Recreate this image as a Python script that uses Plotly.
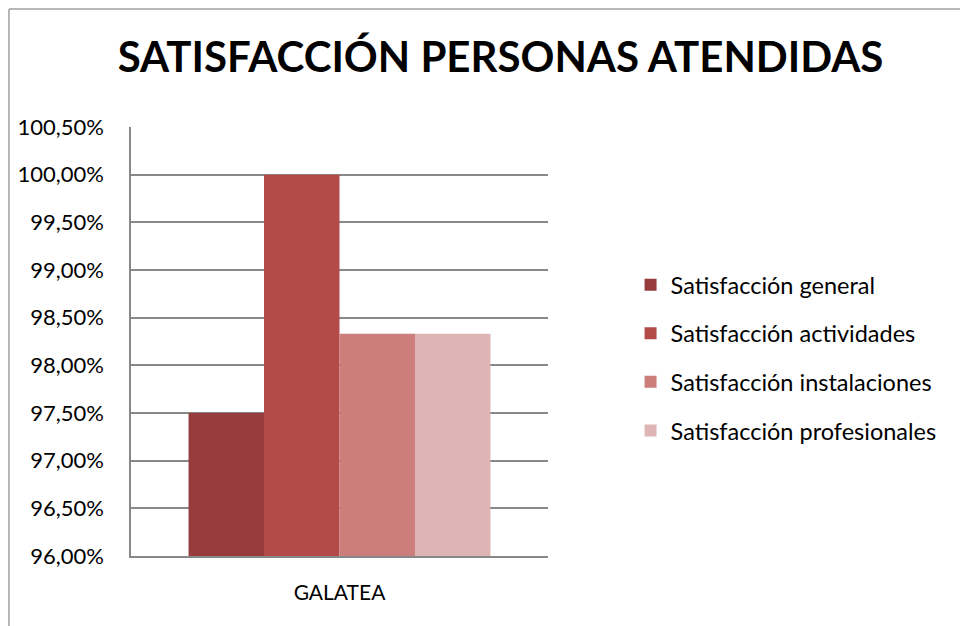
import plotly.graph_objects as go

# Datos
categorias = ["GALATEA"]
series = [
    "Satisfacción general",
    "Satisfacción actividades",
    "Satisfacción instalaciones",
    "Satisfacción profesionales",
]
valores = [0.975, 1.0, 0.9833, 0.9833]
colores = ["#963C3C", "#B24A48", "#CB7E7C", "#DEB5B4"]

FUENTE = "Lato, Calibri, sans-serif"

fig = go.Figure()

for nombre, valor, color in zip(series, valores, colores):
    fig.add_trace(go.Bar(
        x=categorias,
        y=[valor],
        name=nombre,
        marker=dict(color=color, line=dict(width=0)),
        legendgroup=nombre,
    ))

# la página tiene 8px de margen en el body: se compensa en los márgenes
fig.update_layout(
    width=968,
    height=626,
    margin=dict(l=123, r=428, t=119, b=78),
    paper_bgcolor="white",
    plot_bgcolor="white",
    separators=",.",
    barmode="group",
    bargap=0.276,
    bargroupgap=0,
    title=dict(
        text="<b>SATISFACCIÓN PERSONAS ATENDIDAS</b>",
        font=dict(family=FUENTE, size=42, color="black"),
        x=0.5088, xref="container", xanchor="center",
        y=0.9217, yref="container", yanchor="middle",
    ),
    font=dict(family=FUENTE, size=20, color="black"),
    legend=dict(
        x=1.198, xanchor="left",
        y=0.683, yanchor="top",
        font=dict(family=FUENTE, size=23.5, color="black"),
        tracegroupgap=15,
        traceorder="grouped",
        itemclick=False,
    ),
    xaxis=dict(
        showline=True, linecolor="#888888", linewidth=1.5,
        showgrid=False, ticks="", ticklabelstandoff=17,
        tickfont=dict(size=21), automargin=False,
    ),
    yaxis=dict(
        range=[0.96, 1.005],
        dtick=0.005,
        tickformat=".2%",
        showline=True, linecolor="#888888", linewidth=1.5,
        showgrid=True, gridcolor="#888888", gridwidth=1.5,
        zeroline=False, ticks="", ticklabelstandoff=21,
        tickfont=dict(size=22), automargin=False,
    ),
    shapes=[
        dict(type="line", xref="paper", yref="paper",
             x0=-0.2926, x1=2.0, y0=1.275, y1=1.275,
             line=dict(color="#A0A0A0", width=1.5)),
        dict(type="line", xref="paper", yref="paper",
             x0=-0.2926, x1=-0.2926, y0=-0.3, y1=1.275,
             line=dict(color="#A0A0A0", width=1.5)),
    ],
)

fig.write_html("out.html")
